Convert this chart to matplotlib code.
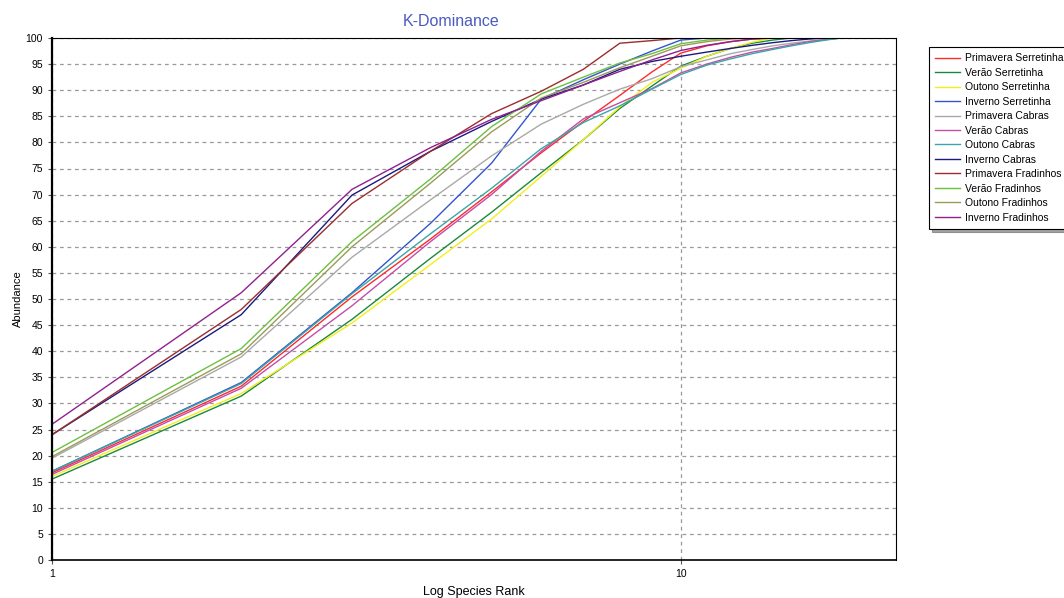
import numpy as np
import matplotlib
matplotlib.use("Agg")
import matplotlib.pyplot as plt

plt.rcParams['font.family'] = ['Liberation Sans', 'DejaVu Sans']

# Cumulative abundance (%) by species rank
prim_serretinha = [16.7, 33.3, 50.4, 61.5, 70.5, 78.0, 84.0, 89.0, 93.5, 97.1, 98.5, 99.3, 99.8, 100]
verao_serretinha = [15.5, 31.4, 46.1, 57.8, 66.6, 74.2, 80.5, 86.5, 90.8, 94.6, 96.5, 98.0, 99.0, 99.6, 100]
outono_serretinha = [16.0, 31.9, 45.4, 56.6, 65.3, 73.5, 80.5, 86.8, 91.5, 94.2, 96.5, 98.0, 99.2, 100]
inverno_serretinha = [17.0, 34.0, 51.2, 64.5, 76.0, 88.3, 92.0, 95.0, 97.5, 99.6, 100]
prim_cabras = [19.5, 38.9, 58.0, 69.0, 77.4, 83.5, 87.3, 90.2, 92.2, 94.5, 95.8, 97.0, 97.8, 98.5, 99.0, 99.4, 99.7, 100]
verao_cabras = [16.4, 32.9, 48.7, 61.0, 70.0, 78.3, 84.5, 87.6, 90.3, 93.3, 95.0, 96.3, 97.3, 98.0, 98.7, 99.3, 99.7, 100]
outono_cabras = [17.0, 33.8, 51.0, 62.5, 71.2, 78.8, 83.8, 87.0, 90.2, 93.0, 94.8, 96.0, 97.0, 97.8, 98.5, 99.1, 99.6, 100]
inverno_cabras = [24.0, 47.0, 69.9, 78.3, 84.0, 88.3, 91.0, 94.0, 95.5, 96.5, 97.3, 98.0, 98.6, 99.1, 99.5, 99.8, 100]
prim_fradinhos = [24.0, 48.0, 68.3, 78.3, 85.5, 89.8, 94.0, 99.0, 99.5, 100]
verao_fradinhos = [20.6, 40.5, 61.0, 73.0, 83.0, 89.3, 92.5, 95.2, 97.0, 98.9, 99.6, 100]
outono_fradinhos = [19.8, 39.5, 60.0, 72.2, 82.0, 88.5, 91.5, 94.3, 96.5, 98.5, 99.3, 99.8, 100]
inverno_fradinhos = [26.0, 51.2, 71.0, 79.0, 84.4, 88.0, 91.0, 93.6, 95.8, 97.6, 98.6, 99.3, 99.8, 100]

series = [
    ("Primavera Serretinha", prim_serretinha, "#FF2a2a"),
    ("Verão Serretinha", verao_serretinha, "#1a8a3a"),
    ("Outono Serretinha", outono_serretinha, "#f2ee1e"),
    ("Inverno Serretinha", inverno_serretinha, "#3355cc"),
    ("Primavera Cabras", prim_cabras, "#a9a9a9"),
    ("Verão Cabras", verao_cabras, "#c24ea8"),
    ("Outono Cabras", outono_cabras, "#3aa6a6"),
    ("Inverno Cabras", inverno_cabras, "#1a1a80"),
    ("Primavera Fradinhos", prim_fradinhos, "#9b2d2d"),
    ("Verão Fradinhos", verao_fradinhos, "#6cc040"),
    ("Outono Fradinhos", outono_fradinhos, "#9c9a5a"),
    ("Inverno Fradinhos", inverno_fradinhos, "#902090"),
]

fig = plt.figure(figsize=(10.64, 5.98), dpi=100)
ax = fig.add_axes([52/1064, 1 - 560/598, (896 - 52)/1064, (560 - 38)/598])

for name, vals, col in series:
    ranks = np.arange(1, len(vals) + 1)
    ax.plot(ranks, vals, color=col, lw=1.0, label=name)

ax.set_xscale("log")
ax.set_xlim(1, 22)
ax.set_ylim(0, 100)
ax.set_xticks([1, 10])
ax.set_xticklabels(["1", "10"])
ax.xaxis.set_minor_locator(matplotlib.ticker.NullLocator())
ax.set_yticks(np.arange(0, 101, 5))
ax.tick_params(labelsize=7.5, length=3, width=0.8, color="#555555")

ax.grid(True, axis="both", linestyle=(0, (3, 3)), color="#999999", lw=0.9)
for s in ax.spines.values():
    s.set_linewidth(0.8)
    s.set_color("black")
ax.spines["left"].set_linewidth(1.6)
ax.spines["bottom"].set_linewidth(1.2)

ax.set_xlabel("Log Species Rank", fontsize=9, labelpad=5)
ax.set_ylabel("Abundance", fontsize=8, labelpad=2)
fig.text(451/1064, 1 - 21/598, "K-Dominance", fontsize=11.5, color="#4a5ac0",
         ha="center", va="center")

leg = fig.legend(loc="upper left", bbox_to_anchor=(929/1064, 1 - 47/598),
                 fontsize=7.5, frameon=True, fancybox=False, shadow=True,
                 handlelength=2.4, handletextpad=0.45, labelspacing=0.43,
                 borderpad=0.6, borderaxespad=0)
leg.get_frame().set_edgecolor("black")
leg.get_frame().set_linewidth(0.8)

fig.savefig("out.png", dpi=100)
